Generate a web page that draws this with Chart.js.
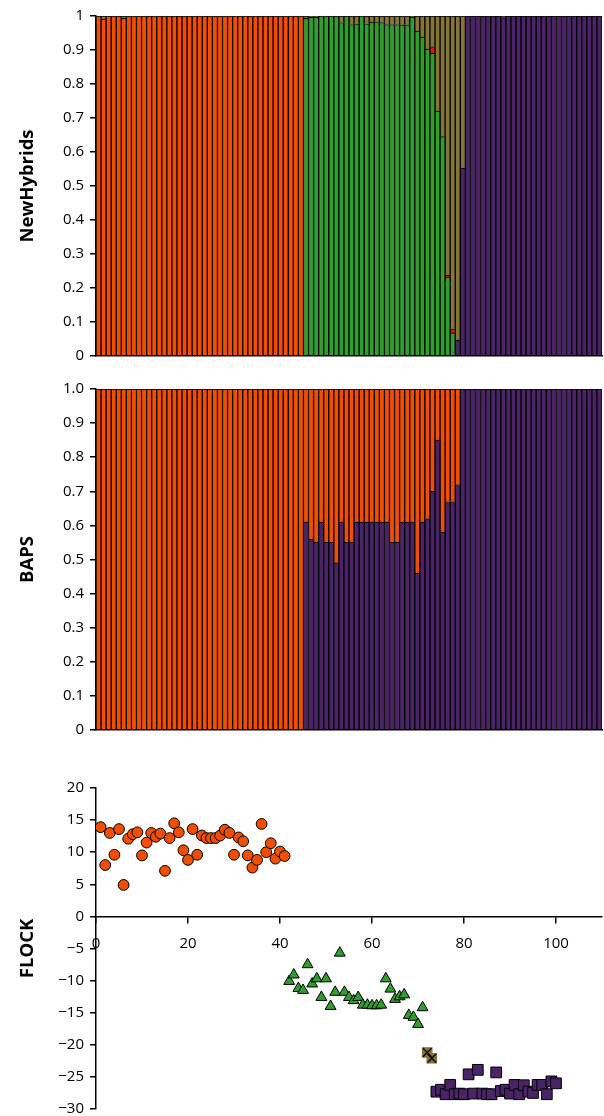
<!DOCTYPE html>
<html>
<head>
<meta charset="utf-8">
<script src="https://cdn.jsdelivr.net/npm/chart.js@4.4.1/dist/chart.umd.min.js"></script>
<style>
  html, body { margin: 0; padding: 0; background: #fff; overflow: hidden; }
  .panel { position: absolute; left: 0; width: 604px; }
</style>
</head>
<body>
<div class="panel" style="top:0; height:375px;"><canvas id="nhChart"></canvas></div>
<div class="panel" style="top:370px; height:380px;"><canvas id="bapsChart"></canvas></div>
<div class="panel" style="top:768px; height:356px;"><canvas id="flockChart"></canvas></div>
<script>
// individual ids 1..100
const individuals = Array.from({ length: 100 }, (_, i) => String(i + 1));

// NewHybrids assignment proportions per individual (stacked bottom -> top)
const nhOrange = [
  1, 0.99, 1, 1, 1, 0.993, 1, 1, 1, 1,
  1, 1, 1, 1, 1, 1, 1, 1, 1, 1,
  1, 1, 1, 1, 1, 1, 1, 1, 1, 1,
  1, 1, 1, 1, 1, 1, 1, 1, 1, 1,
  1, 0, 0, 0, 0, 0, 0, 0, 0, 0,
  0, 0, 0, 0, 0, 0, 0, 0, 0, 0,
  0, 0, 0, 0, 0, 0, 0, 0, 0, 0,
  0, 0, 0, 0, 0, 0, 0, 0, 0, 0,
  0, 0, 0, 0, 0, 0, 0, 0, 0, 0,
  0, 0, 0, 0, 0, 0, 0, 0, 0, 0
];
const nhPurple = [
  0, 0, 0, 0, 0, 0, 0, 0, 0, 0,
  0, 0, 0, 0, 0, 0, 0, 0, 0, 0,
  0, 0, 0, 0, 0, 0, 0, 0, 0, 0,
  0, 0, 0, 0, 0, 0, 0, 0, 0, 0,
  0, 0, 0, 0, 0, 0, 0, 0, 0, 0,
  0, 0, 0, 0, 0, 0, 0, 0, 0, 0,
  0, 0, 0, 0, 0, 0, 0, 0, 0, 0,
  0, 0.047, 0.553, 1, 1, 1, 1, 1, 1, 1,
  0.995, 1, 1, 1, 1, 1, 1, 1, 1, 1,
  1, 1, 1, 1, 1, 1, 1, 1, 1, 1
];
const nhGreen = [
  0, 0, 0, 0, 0, 0, 0, 0, 0, 0,
  0, 0, 0, 0, 0, 0, 0, 0, 0, 0,
  0, 0, 0, 0, 0, 0, 0, 0, 0, 0,
  0, 0, 0, 0, 0, 0, 0, 0, 0, 0,
  0, 0.993, 0.996, 0.996, 1, 1, 1, 1, 0.981, 1,
  0.975, 0.977, 1, 0.977, 0.982, 0.983, 0.981, 0.975, 0.975, 0.975,
  0.974, 0.974, 0.997, 0.956, 0.938, 0.903, 0.89, 0.72, 0.645, 0.232,
  0.068, 0, 0, 0, 0, 0, 0, 0, 0, 0,
  0, 0, 0, 0, 0, 0, 0, 0, 0, 0,
  0, 0, 0, 0, 0, 0, 0, 0, 0, 0
];
const nhRed = [
  0, 0, 0, 0, 0, 0, 0, 0, 0, 0,
  0, 0, 0, 0, 0, 0, 0, 0, 0, 0,
  0, 0, 0, 0, 0, 0, 0, 0, 0, 0,
  0, 0, 0, 0, 0, 0, 0, 0, 0, 0,
  0, 0, 0, 0, 0, 0, 0, 0, 0, 0,
  0, 0, 0, 0, 0, 0, 0, 0, 0, 0,
  0, 0, 0, 0, 0, 0, 0.02, 0, 0, 0.006,
  0.012, 0, 0, 0, 0, 0, 0, 0, 0, 0,
  0, 0, 0, 0, 0, 0, 0, 0, 0, 0,
  0, 0, 0, 0, 0, 0, 0, 0, 0, 0
];
const nhOlive = [
  0, 0.01, 0, 0, 0, 0.007, 0, 0, 0, 0,
  0, 0, 0, 0, 0, 0, 0, 0, 0, 0,
  0, 0, 0, 0, 0, 0, 0, 0, 0, 0,
  0, 0, 0, 0, 0, 0, 0, 0, 0, 0,
  0, 0.007, 0.004, 0.004, 0, 0, 0, 0, 0.019, 0,
  0.025, 0.023, 0, 0.023, 0.018, 0.017, 0.019, 0.025, 0.025, 0.025,
  0.026, 0.026, 0.003, 0.044, 0.062, 0.097, 0.09, 0.28, 0.355, 0.762,
  0.92, 0.953, 0.447, 0, 0, 0, 0, 0, 0, 0,
  0.005, 0, 0, 0, 0, 0, 0, 0, 0, 0,
  0, 0, 0, 0, 0, 0, 0, 0, 0, 0
];

// BAPS proportions
const bapsPurple = [
  0, 0, 0, 0, 0, 0, 0, 0, 0, 0,
  0, 0, 0, 0, 0, 0, 0, 0, 0, 0,
  0, 0, 0, 0, 0, 0, 0, 0, 0, 0,
  0, 0, 0, 0, 0, 0, 0, 0, 0, 0,
  0, 0.61, 0.56, 0.55, 0.61, 0.55, 0.55, 0.49, 0.61, 0.55,
  0.55, 0.61, 0.61, 0.61, 0.61, 0.61, 0.61, 0.61, 0.55, 0.55,
  0.61, 0.61, 0.61, 0.46, 0.61, 0.62, 0.70, 0.85, 0.58, 0.67,
  0.67, 0.72, 1, 1, 1, 1, 1, 1, 1, 1,
  1, 1, 1, 1, 1, 1, 1, 1, 1, 1,
  1, 1, 1, 1, 1, 1, 1, 1, 1, 1
];
const bapsOrange = [
  1, 1, 1, 1, 1, 1, 1, 1, 1, 1,
  1, 1, 1, 1, 1, 1, 1, 1, 1, 1,
  1, 1, 1, 1, 1, 1, 1, 1, 1, 1,
  1, 1, 1, 1, 1, 1, 1, 1, 1, 1,
  1, 0.39, 0.44, 0.45, 0.39, 0.45, 0.45, 0.51, 0.39, 0.45,
  0.45, 0.39, 0.39, 0.39, 0.39, 0.39, 0.39, 0.39, 0.45, 0.45,
  0.39, 0.39, 0.39, 0.54, 0.39, 0.38, 0.30, 0.15, 0.42, 0.33,
  0.33, 0.28, 0, 0, 0, 0, 0, 0, 0, 0,
  0, 0, 0, 0, 0, 0, 0, 0, 0, 0,
  0, 0, 0, 0, 0, 0, 0, 0, 0, 0
];

// FLOCK scores, grouped by cluster (first id of each group)
const flockOrangeStart = 1;
const flockOrange = [13.9, 8.0, 13.0, 9.6, 13.6, 4.9, 12.1, 12.8, 13.1, 9.5,
  11.5, 13.0, 12.4, 12.9, 7.1, 12.2, 14.5, 13.1, 10.3, 8.8,
  13.6, 9.6, 12.6, 12.2, 12.2, 12.2, 12.6, 13.5, 13.0, 9.6,
  12.3, 11.7, 9.5, 7.6, 8.8, 14.4, 10.0, 11.4, 9.0, 10.1, 9.4];
const flockGreenStart = 42;
const flockGreen = [-10.1, -9.1, -11.2, -11.5, -7.5, -10.5, -9.7, -12.6, -9.7, -14.0,
  -11.8, -5.7, -11.8, -12.6, -13.1, -12.6, -13.8, -13.8, -13.9, -13.9,
  -13.8, -9.7, -11.3, -12.9, -12.5, -12.2, -15.4, -15.7, -16.8, -14.2];
const flockOliveStart = 72;
const flockOlive = [-21.2, -22.1];
const flockPurpleStart = 74;
const flockPurple = [-27.3, -27.0, -27.7, -26.25, -27.7, -27.6, -27.7, -24.6, -27.6, -23.9,
  -27.6, -27.7, -27.7, -24.3, -27.2, -27.0, -27.6, -26.25, -27.7, -26.3,
  -27.3, -27.5, -26.25, -26.25, -27.7, -25.7, -26.0];

const flockXTicks = [0, 20, 40, 60, 80, 100];

const ORANGE = '#F14E00';
const GREEN = '#2F9E2C';
const OLIVE = '#857538';
const RED = '#EE1111';
const PURPLE = '#4A2466';

const FONT = 'Open Sans';

function toPoints(start, values) {
  return values.map((v, i) => ({ x: start + i, y: v }));
}

function barSet(label, data, color) {
  return {
    label: label,
    data: data,
    backgroundColor: color,
    borderColor: '#000',
    borderWidth: 1,
    barPercentage: 1,
    categoryPercentage: 1
  };
}

function yAxisBase(title) {
  return {
    afterFit: s => { s.width = 96; },
    border: { display: true, color: '#000', width: 1.5 },
    grid: { drawOnChartArea: false, drawTicks: true, tickLength: 6, color: '#000', lineWidth: 1.5 },
    ticks: { color: '#000', padding: 6, font: { family: FONT, size: 15 } },
    title: {
      display: true,
      text: title,
      color: '#000',
      padding: { top: 17, bottom: 0 },
      font: { family: FONT, size: 18.5, weight: 'bold' }
    }
  };
}

function barOptions(title, fmt, pad) {
  const y = yAxisBase(title);
  y.stacked = true;
  y.min = 0;
  y.max = 1;
  y.ticks.stepSize = 0.1;
  y.ticks.callback = fmt;
  return {
    responsive: true,
    maintainAspectRatio: false,
    animation: false,
    layout: { padding: { top: pad.top, bottom: pad.bottom, left: 0, right: 2 } },
    plugins: { legend: { display: false }, tooltip: { enabled: false } },
    scales: {
      x: {
        stacked: true,
        border: { display: true, color: '#000', width: 1.5 },
        grid: { display: false },
        ticks: { display: false }
      },
      y: y
    }
  };
}

// NewHybrids
new Chart(document.getElementById('nhChart'), {
  type: 'bar',
  data: {
    labels: individuals,
    datasets: [
      barSet('orange', nhOrange, ORANGE),
      barSet('purple', nhPurple, PURPLE),
      barSet('green', nhGreen, GREEN),
      barSet('red', nhRed, RED),
      barSet('olive', nhOlive, OLIVE)
    ]
  },
  options: barOptions('NewHybrids', v => String(+v.toFixed(1)), { top: 16, bottom: 11 })
});

// BAPS
new Chart(document.getElementById('bapsChart'), {
  type: 'bar',
  data: {
    labels: individuals,
    datasets: [
      barSet('purple', bapsPurple, PURPLE),
      barSet('orange', bapsOrange, ORANGE)
    ]
  },
  options: barOptions('BAPS', v => (Math.abs(v) < 1e-9 ? '0' : v.toFixed(1)), { top: 19, bottom: 12 })
});

// FLOCK
const flockY = yAxisBase('FLOCK');
flockY.min = -30;
flockY.max = 20;
flockY.ticks.stepSize = 5;
flockY.ticks.callback = v => String(v).replace('-', '\u2212');

// datasets listed first are drawn on top in Chart.js
new Chart(document.getElementById('flockChart'), {
  type: 'scatter',
  data: {
    datasets: [
      {
        data: toPoints(flockPurpleStart, flockPurple),
        pointStyle: 'rect', pointRadius: 7.6,
        backgroundColor: PURPLE, borderColor: '#000', borderWidth: 1
      },
      {
        data: toPoints(flockOliveStart, flockOlive),
        pointStyle: 'crossRot', pointRadius: 6,
        borderColor: '#000', borderWidth: 1.2
      },
      {
        data: toPoints(flockOliveStart, flockOlive),
        pointStyle: 'rect', pointRadius: 7.5,
        backgroundColor: OLIVE, borderColor: OLIVE, borderWidth: 0
      },
      {
        data: toPoints(flockGreenStart, flockGreen),
        pointStyle: 'triangle', pointRadius: 6.3,
        backgroundColor: GREEN, borderColor: '#000', borderWidth: 1
      },
      {
        data: toPoints(flockOrangeStart, flockOrange),
        pointStyle: 'circle', pointRadius: 5.4,
        backgroundColor: ORANGE, borderColor: '#000', borderWidth: 1
      }
    ]
  },
  options: {
    responsive: true,
    maintainAspectRatio: false,
    animation: false,
    layout: { autoPadding: false, padding: { top: 20, bottom: 10, left: 0, right: 2 } },
    plugins: { legend: { display: false }, tooltip: { enabled: false } },
    scales: {
      x: {
        type: 'linear',
        position: { y: 0 },
        min: 0,
        max: 110,
        afterBuildTicks: s => { s.ticks = flockXTicks.map(v => ({ value: v })); },
        afterFit: s => { s.paddingLeft = 0; s.paddingRight = 0; },
        border: { display: true, color: '#000', width: 1.5 },
        grid: { drawOnChartArea: false, drawTicks: true, tickLength: 6, color: '#000', lineWidth: 1.5 },
        ticks: { color: '#000', padding: 12, maxRotation: 0, font: { family: FONT, size: 15 } }
      },
      y: flockY
    }
  }
});
</script>
</body>
</html>
